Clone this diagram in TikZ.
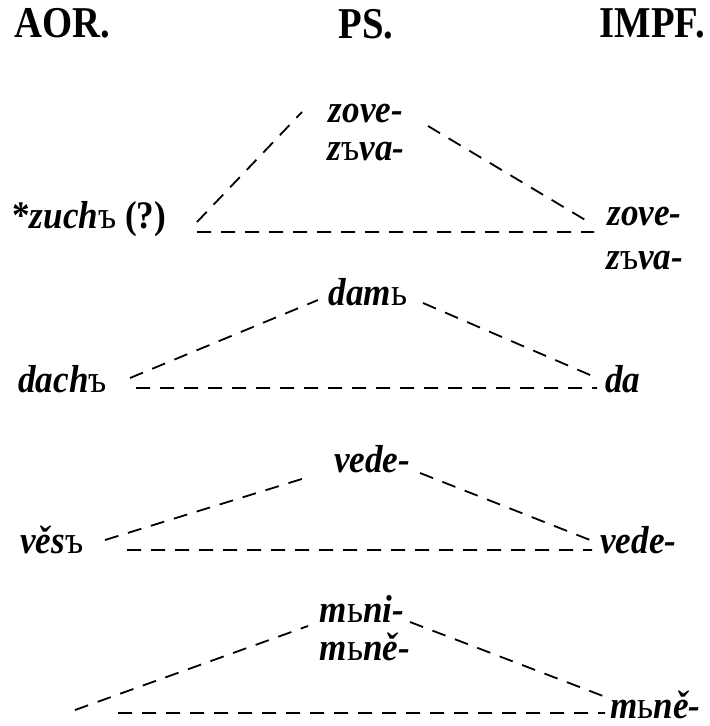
\documentclass[tikz,border=0pt]{standalone}
\usepackage{fontspec}
\setmainfont{Liberation Serif}
\newcommand{\bigyer}{{\mdseries\upshape ъ}}
\newcommand{\smallyer}{{\mdseries\upshape ь}}

\begin{document}
\begin{tikzpicture}[
    x = 0.5pt, y = -0.5pt,
    every node/.style = {inner sep = 0pt, anchor = base},
    hdr/.style = {font = \fontsize{22}{24}\selectfont\bfseries, xscale = 0.88},
    wrd/.style = {font = \fontsize{19.5}{22}\selectfont\bfseries\itshape, xscale = 0.9},
    link/.style = {line width = 0.9pt, dash pattern = on 7pt off 5pt}]

\useasboundingbox (0,0) rectangle (709,726);

% column heads
\path (14,38) node[hdr, anchor = base west](aor) {AOR.}
      (366,39) node[hdr](ps) {PS.}
      (705,38) node[hdr, anchor = base east](impf) {IMPF.};

% zuch / zove
\path (12,229) node[wrd, anchor = base west](zuch) {\upshape *\itshape zuch\bigyer\ \textup{(?)}}
      (366,123) node[wrd](zoveP) {zove-}
      (366,161) node[wrd](zvaP) {z\bigyer va-}
      (607,226) node[wrd, anchor = base west](zoveI) {zove-}
      (606,270) node[wrd, anchor = base west](zvaI) {z\bigyer va-};
\coordinate (a1) at (197,222); \coordinate (p1l) at (302,112);
\coordinate (p1r) at (428,126); \coordinate (i1) at (592,224);
\coordinate (h1l) at (197,232); \coordinate (h1r) at (594,232);
\draw[link] (a1) -- (p1l) (p1r) -- (i1) (h1l) -- (h1r);

% dach / dam / da
\path (18,392) node[wrd, anchor = base west](dach) {dach\bigyer}
      (368,306) node[wrd](dam) {dam\smallyer}
      (605,392) node[wrd, anchor = base west](da) {da};
\coordinate (a2) at (130,378); \coordinate (p2l) at (318,300);
\coordinate (p2r) at (423,303); \coordinate (i2) at (597,378);
\coordinate (h2l) at (136,388); \coordinate (h2r) at (597,388);
\draw[link] (a2) -- (p2l) (p2r) -- (i2) (h2l) -- (h2r);

% ves / vede
\path (20,553) node[wrd, anchor = base west](ves) {věs\bigyer}
      (372,472) node[wrd](vedeP) {vede-}
      (600,553) node[wrd, anchor = base west](vedeI) {vede-};
\coordinate (a3) at (105,540); \coordinate (p3l) at (305,478);
\coordinate (p3r) at (420,473); \coordinate (i3) at (590,540);
\coordinate (h3l) at (127,550); \coordinate (h3r) at (592,550);
\draw[link] (a3) -- (p3l) (p3r) -- (i3) (h3l) -- (h3r);

% mni / mne
\path (362,622) node[wrd](mniP) {m\smallyer ni-}
      (365,660) node[wrd](mneP) {m\smallyer ně-}
      (610,718) node[wrd, anchor = base west](mneI) {m\smallyer ně-};
\coordinate (a4) at (75,710); \coordinate (p4l) at (308,626);
\coordinate (p4r) at (410,622); \coordinate (i4) at (603,696);
\coordinate (h4l) at (118,713); \coordinate (h4r) at (605,713);
\draw[link] (a4) -- (p4l) (p4r) -- (i4) (h4l) -- (h4r);
\end{tikzpicture}
\end{document}
